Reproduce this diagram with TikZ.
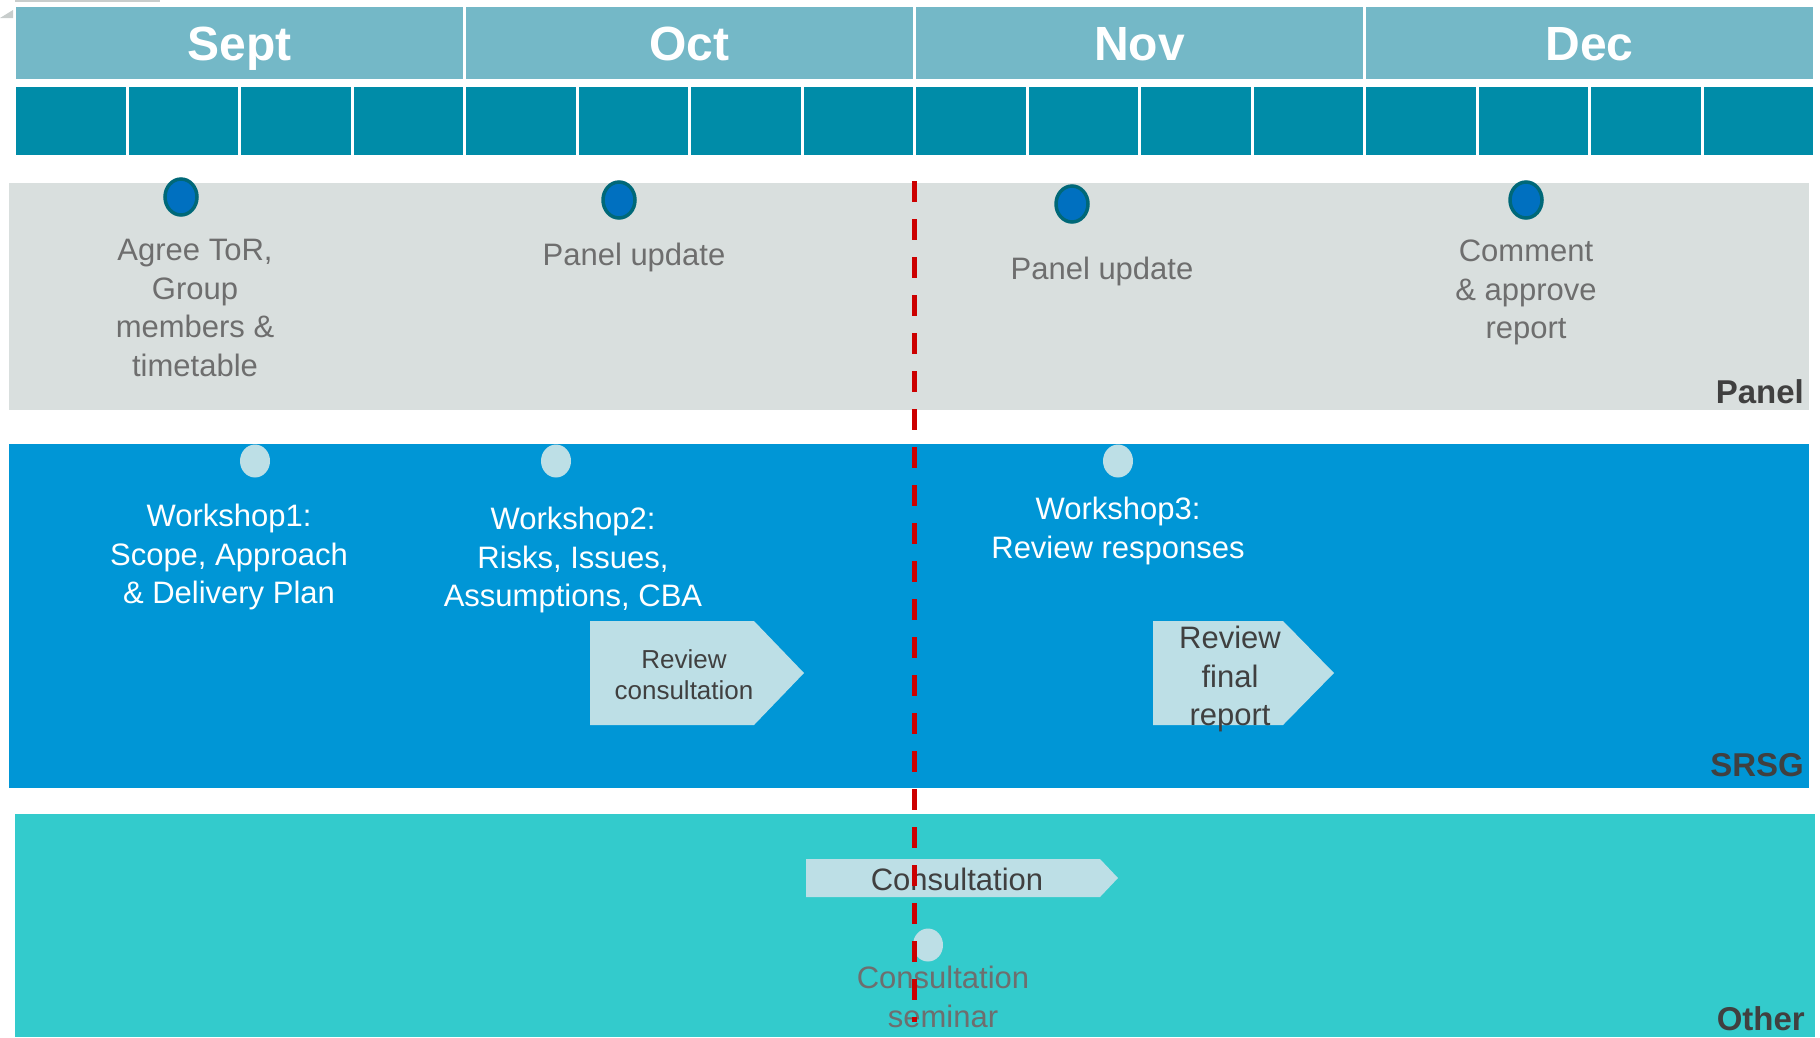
\documentclass[tikz,border=0pt]{standalone}
\usepackage{fontspec}
\setmainfont{Liberation Sans}
\usetikzlibrary{shapes.geometric}

\definecolor{monthcol}{HTML}{74B8C7}
\definecolor{weekcol}{HTML}{008CA8}
\definecolor{panelbg}{HTML}{D9DFDE}
\definecolor{srsgbg}{HTML}{0096D6}
\definecolor{otherbg}{HTML}{33CBCC}
\definecolor{palebox}{HTML}{BDDFE6}
\definecolor{dotblue}{HTML}{0070C0}
\definecolor{dotrim}{HTML}{006878}
\definecolor{cutred}{HTML}{CC0000}
\definecolor{greytext}{HTML}{6E6E6E}
\definecolor{darktext}{HTML}{404040}
\definecolor{cornergrey}{HTML}{C8CDCC}

\newcommand\tlfont{\fontsize{31}{38.5}\selectfont}

\tikzset{
  month/.style={fill=monthcol, text=white, font=\fontsize{48}{48}\selectfont\bfseries,
    minimum width=447pt, minimum height=72pt, inner sep=0pt, text height=35pt, text depth=0pt},
  week/.style={fill=weekcol, minimum width=109.5pt, minimum height=68pt, inner sep=0pt},
  bigdot/.style={ellipse, fill=dotblue, draw=dotrim, line width=3.5pt, minimum width=32pt, minimum height=36pt, inner sep=0pt},
  smalldot/.style={ellipse, fill=palebox, minimum width=30pt, minimum height=33pt, inner sep=0pt},
  note/.style={anchor=north, align=center, inner sep=0pt, font=\tlfont},
  bandname/.style={anchor=base east, inner sep=0pt, text=darktext, font=\fontsize{33}{33}\selectfont\bfseries},
  cutline/.style={cutred, line width=5pt, dash pattern=on 21pt off 17pt}
}

\begin{document}
\begin{tikzpicture}[x=1pt,y=-1pt]
  \useasboundingbox (0,0) rectangle (1820,1037);
  \fill[cornergrey] (15,0) rectangle (160,2);
  \fill[cornergrey] (0,18) -- (13,10) -- (13,18) -- cycle;

  % months and weeks
  \foreach \m [count=\i from 0] in {Sept,Oct,Nov,Dec}
    \node[month] (m\i) at (239.5+450*\i,43) {\m};
  \foreach \w in {0,...,15}
    \node[week] (w\w) at (70.75+112.5*\w,121) {};

  % bands
  \fill[panelbg] (9,183) rectangle (1809,410);
  \fill[srsgbg] (9,444) rectangle (1809,788);
  \fill[otherbg] (15,814) rectangle (1815,1037);
  \node[bandname] (panel) at (1804,403) {Panel};
  \node[bandname] (srsg) at (1804,776) {SRSG};
  \node[bandname] (other) at (1805,1030) {Other};

  % panel
  \node[bigdot] (p1) at (181,197) {};
  \node[bigdot] (p2) at (619,200) {};
  \node[bigdot] (p3) at (1072,204) {};
  \node[bigdot] (p4) at (1526,200) {};
  \node[note, text=greytext] (tor) at (195,239) {Agree ToR,\\Group\\members \&\\timetable};
  \node[note, text=greytext] (upd1) at (634,243) {Panel update};
  \node[note, text=greytext] (upd2) at (1102,257) {Panel update};
  \node[note, text=greytext] (appr) at (1526,240) {Comment\\\& approve\\report};

  % srsg
  \node[smalldot] (s1) at (255,461) {};
  \node[smalldot] (s2) at (556,461) {};
  \node[smalldot] (s3) at (1118,461) {};
  \node[note, text=white] (ws1) at (229,504) {Workshop1:\\Scope, Approach\\\& Delivery Plan};
  \node[note, text=white] (ws2) at (573,507) {Workshop2:\\Risks, Issues,\\Assumptions, CBA};
  \node[note, text=white] (ws3) at (1118,497) {Workshop3:\\Review responses};
  \fill[palebox] (590,621) -- (754,621) -- (804,673) -- (754,725) -- (590,725) -- cycle;
  \fill[palebox] (1153,621) -- (1283,621) -- (1334,673) -- (1283,725) -- (1153,725) -- cycle;
  \node[note, text=darktext, font=\fontsize{26}{31}\selectfont] (revc) at (684,649) {Review\\consultation};
  \node[note, text=darktext] (revf) at (1230,626) {Review\\final\\report};

  % other
  \fill[palebox] (806,859) -- (1100,859) -- (1118,878) -- (1100,897) -- (806,897) -- cycle;
  \node[note, text=darktext] (cons) at (957,868) {Consultation};
  \node[smalldot] (o1) at (928,945) {};
  \node[note, text=greytext] (sem) at (943,966) {Consultation\\seminar};

  % today
  \coordinate (cut top) at (914,181);
  \coordinate (cut bot) at (914,1022);
  \draw[cutline] (cut top) -- (cut bot);
\end{tikzpicture}
\end{document}
